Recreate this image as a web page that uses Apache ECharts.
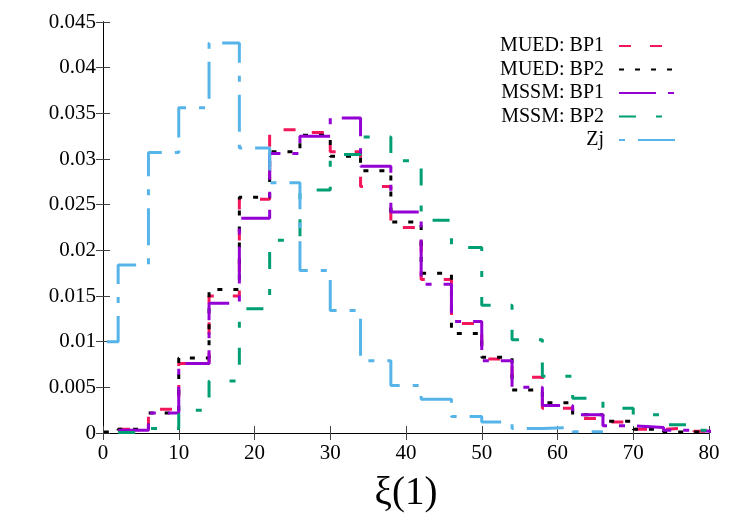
<!DOCTYPE html>
<html>
<head>
<meta charset="utf-8">
<script src="https://cdn.jsdelivr.net/npm/echarts@6/dist/echarts.min.js"></script>
<style>
	html, body { margin: 0; padding: 0; background: #fff; }
	#chart_container { width: 750px; height: 525px; }
</style>
</head>
<body>
<div id="chart_container"></div>
<script>
// bin centres, width 4 (histeps)
var binCenters = [0, 4, 8, 12, 16, 20, 24, 28, 32, 36, 40, 44, 48, 52, 56, 60, 64, 68, 72, 76, 80];
var binWidth = 4;

var muedBP1 = [null, 0.0004, 0.0026, 0.0076, 0.0150, 0.0256, 0.0332, 0.0329, 0.0308, 0.0270, 0.0225,
	0.0168, 0.0120, 0.0081, 0.0061, 0.0027, 0.0016, 0.0012, 0.0004, 0.0006, 0.0002];
var muedBP2 = [0.0001, 0.0004, 0.0022, 0.0082, 0.0157, 0.0258, 0.0308, 0.0326, 0.0303, 0.0287, 0.0231,
	0.0175, 0.0109, 0.0083, 0.0047, 0.0033, 0.0020, 0.0013, 0.0004, 0.0001, 0.0002];
var mssmBP1 = [null, 0.0003, 0.0022, 0.0076, 0.0142, 0.0235, 0.0306, 0.0325, 0.0345, 0.0292, 0.0242,
	0.0163, 0.0122, 0.0079, 0.0050, 0.0030, 0.0020, 0.0008, 0.0006, 0.0003, 0.0001];
var mssmBP2 = [null, 0.00005, 0.0005, 0.0025, 0.0057, 0.0136, 0.0211, 0.0266, 0.0305, 0.0324, 0.0298,
	0.0233, 0.0203, 0.0140, 0.0102, 0.0062, 0.0038, 0.0027, 0.0020, 0.0009, 0.0003];
var zj = [0.0100, 0.0184, 0.0307, 0.0356, 0.0427, 0.0312, 0.0274, 0.0178, 0.0134, 0.0079, 0.0052,
	0.0037, 0.0018, 0.0012, 0.0005, 0.0006, 0.00015, null, null, null, null];

var seriesNames = ["MUED: BP1", "MUED: BP2", "MSSM: BP1", "MSSM: BP2", "Zj"];
var xTickLabels = ["0", "10", "20", "30", "40", "50", "60", "70", "80"];
var yTickLabels = ["0", "0.005", "0.01", "0.015", "0.02", "0.025", "0.03", "0.035", "0.04", "0.045"];

var fontName = "Liberation Serif";

// turn bin values into step outline points
function toSteps(values) {
	var pts = [];
	values.forEach((v, i) => {
		if (v === null) return;
		var c = binCenters[i];
		pts.push([c - binWidth / 2, v]);
		pts.push([c + binWidth / 2, v]);
	});
	return pts;
}

function makeSeries(name, values, color, dash) {
	return {
		name: name,
		type: 'line',
		data: toSteps(values),
		symbol: 'none',
		showSymbol: false,
		clip: true,
		animation: false,
		lineStyle: { color: color, width: 3, type: dash, cap: 'butt' },
		itemStyle: { color: color }
	};
}

var axisLine = { show: true, lineStyle: { color: '#000', width: 1 } };
var axisTick = { show: true, inside: true, length: 7, lineStyle: { color: '#444', width: 1 } };

var mychart = echarts.init(document.querySelector("#chart_container"));
var option = {
	backgroundColor: '#fff',
	animation: false,
	grid: { left: 103, right: 41, top: 22, bottom: 92 },
	legend: {
		orient: 'vertical',
		align: 'right',
		right: 74,
		top: 36,
		padding: 0,
		itemWidth: 56,
		itemHeight: 14,
		itemGap: 3.5,
		selectedMode: false,
		data: seriesNames,
		// hide the little marker, keep only the dashed line
		itemStyle: { color: 'rgba(0,0,0,0)', borderWidth: 0, opacity: 0 },
		textStyle: { fontFamily: fontName, fontSize: 20, lineHeight: 18, color: '#000', padding: [0, 10, 0, 0] }
	},
	xAxis: [{
		type: 'value',
		min: 0, max: 80, interval: 10,
		axisLine: axisLine, axisTick: axisTick,
		splitLine: { show: false },
		axisLabel: {
			fontFamily: fontName, fontSize: 21, color: '#000', margin: 10,
			formatter: v => xTickLabels[Math.round(v / 10)]
		},
		name: 'ξ(1)',
		nameLocation: 'middle',
		nameGap: 41,
		nameTextStyle: { fontFamily: fontName, fontSize: 39, color: '#000' }
	}, {
		type: 'value', position: 'top',
		min: 0, max: 80, interval: 10,
		axisLine: axisLine, axisTick: axisTick,
		splitLine: { show: false }, axisLabel: { show: false }
	}],
	yAxis: [{
		type: 'value',
		min: 0, max: 0.045, interval: 0.005,
		axisLine: axisLine, axisTick: axisTick,
		splitLine: { show: false },
		axisLabel: {
			fontFamily: fontName, fontSize: 21, color: '#000', margin: 7,
			formatter: v => yTickLabels[Math.round(v / 0.005)]
		}
	}, {
		type: 'value', position: 'right',
		min: 0, max: 0.045, interval: 0.005,
		axisLine: axisLine, axisTick: axisTick,
		splitLine: { show: false }, axisLabel: { show: false }
	}],
	series: [
		makeSeries(seriesNames[0], muedBP1, '#f4165a', [12, 19]),
		makeSeries(seriesNames[1], muedBP2, '#000000', [5, 11]),
		makeSeries(seriesNames[2], mssmBP1, '#9400d3', [37, 12, 6, 12]),
		makeSeries(seriesNames[3], mssmBP2, '#009e73', [17, 20, 6, 20]),
		makeSeries(seriesNames[4], zj, '#56b4e9', [6, 13, 37, 13])
	]
};
mychart.setOption(option, true);
</script>
</body>
</html>
